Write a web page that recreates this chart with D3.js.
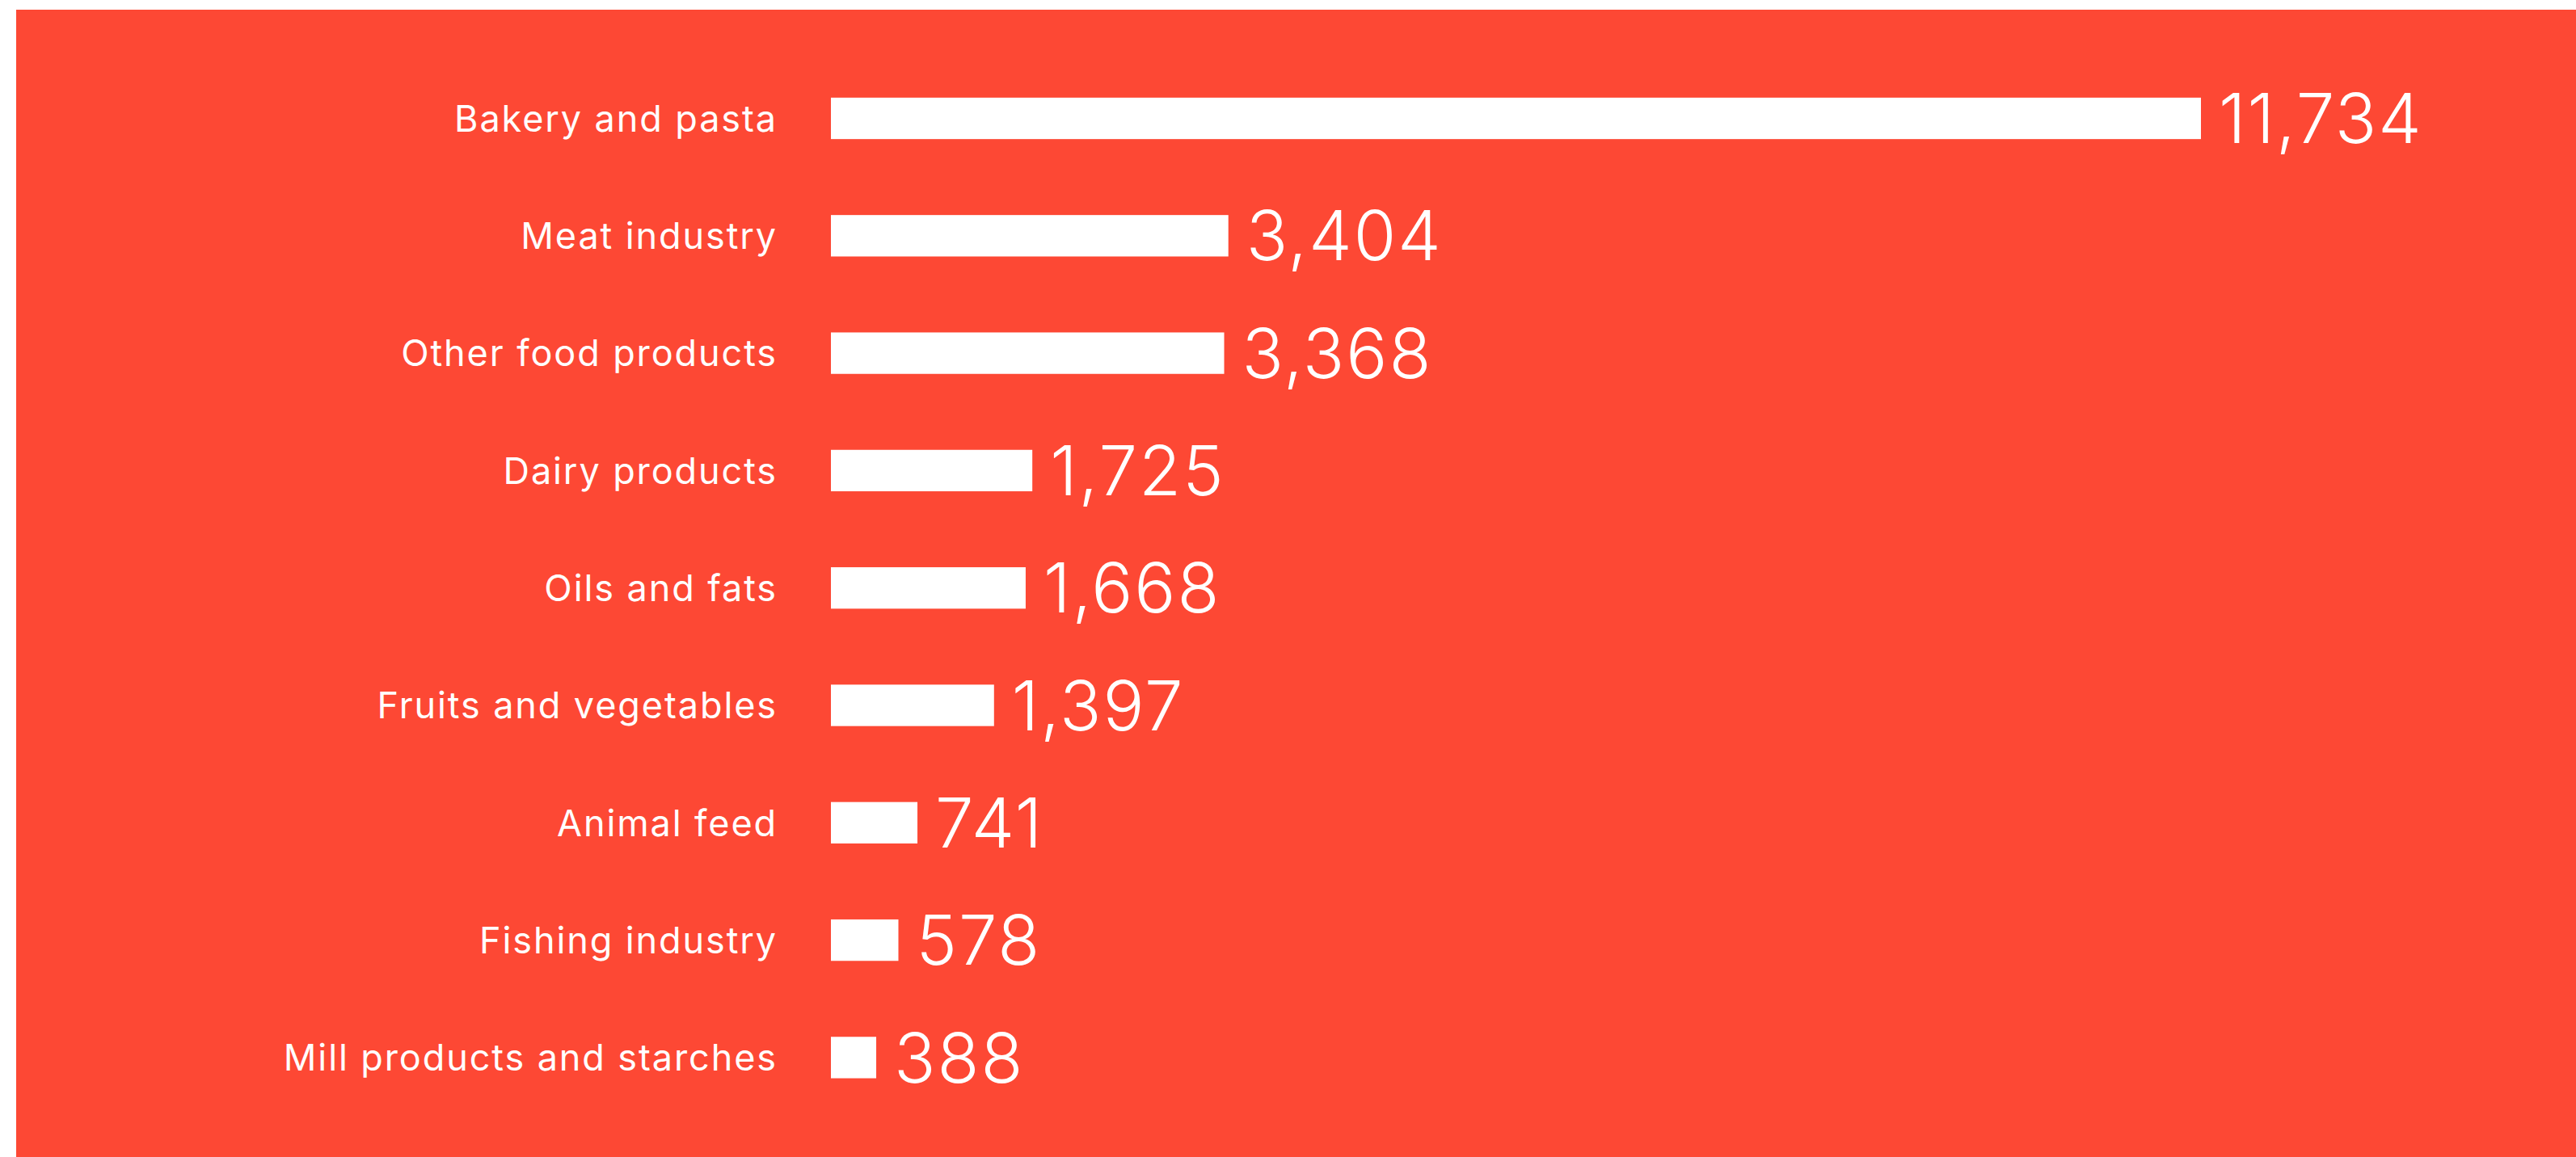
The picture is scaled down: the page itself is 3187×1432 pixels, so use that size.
<!DOCTYPE html>
<html>
<head>
<meta charset="utf-8">
<script src="https://cdn.jsdelivr.net/npm/d3@7"></script>
<style>
  html, body { margin: 0; padding: 0; background: #fff; }
  svg { display: block; }
</style>
</head>
<body>
<svg id="chart"></svg>
<script>
const categories = [
  "Bakery and pasta",
  "Meat industry",
  "Other food products",
  "Dairy products",
  "Oils and fats",
  "Fruits and vegetables",
  "Animal feed",
  "Fishing industry",
  "Mill products and starches"
]
const values = [11734, 3404, 3368, 1725, 1668, 1397, 741, 578, 388]

const width = 3187
const height = 1432
const bg = "#fd4834"

const data = categories.map((c, i) => ({ name: c, value: values[i] }))

const svg = d3.select("#chart")
  .attr("width", width)
  .attr("height", height)

// red panel
svg.append("rect")
  .attr("x", 20)
  .attr("y", 12)
  .attr("width", width - 20)
  .attr("height", height - 12)
  .attr("fill", bg)

const x = d3.scaleLinear()
  .domain([0, d3.max(values)])
  .range([1028, 2723])

const y = d3.scaleBand()
  .domain(categories)
  .range([73.85, 73.85 + 145.3 * categories.length])
  .paddingInner(0.647)
  .paddingOuter(0.3235)

svg.append("g")
  .attr("class", "bars")
  .attr("fill", "#fff")
  .selectAll("rect")
  .data(data)
  .join("rect")
  .attr("x", x(0))
  .attr("y", d => y(d.name))
  .attr("width", d => x(d.value) - x(0))
  .attr("height", y.bandwidth())

// category labels
svg.append("g")
  .attr("class", "labels")
  .selectAll("text")
  .data(data)
  .join("text")
  .attr("x", x(0) - 66)
  .attr("y", d => y(d.name) + y.bandwidth() / 2)
  .attr("dy", "0.36em")
  .attr("text-anchor", "end")
  .attr("fill", "#fff")
  .style("font-family", "Inter, 'Noto Sans', sans-serif")
  .style("font-size", "45px")
  .style("letter-spacing", "1.9px")
  .style("font-weight", 400)
  .text(d => d.name)

// value labels
const fmt = d3.format(",")
svg.append("g")
  .attr("class", "values")
  .selectAll("text")
  .data(data)
  .join("text")
  .attr("x", d => x(d.value) + 22)
  .attr("y", d => y(d.name) + y.bandwidth() / 2)
  .attr("dy", "0.36em")
  .attr("fill", "#fff")
  .style("font-family", "Inter, 'Noto Sans', sans-serif")
  .style("font-size", "85px")
  .style("letter-spacing", "2px")
  .style("font-weight", 350)
  .text(d => fmt(d.value))
</script>
</body>
</html>
